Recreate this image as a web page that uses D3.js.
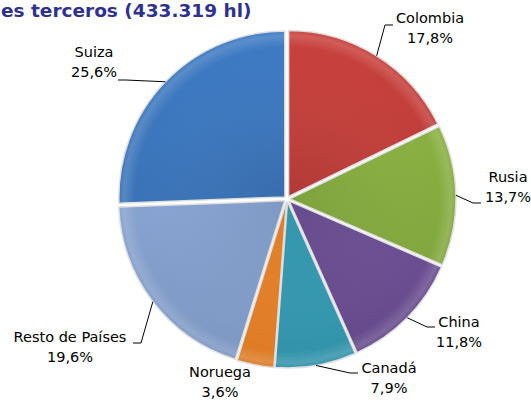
<!DOCTYPE html>
<html>
<head>
<meta charset="utf-8">
<script src="https://cdn.jsdelivr.net/npm/d3@7"></script>
<style>
  html, body { margin: 0; padding: 0; background: #fff; }
  svg { display: block; }
</style>
</head>
<body>
<svg id="chart" width="531" height="403"></svg>
<script>
// Data
const countries = ['Colombia', 'Rusia', 'China', 'Canadá', 'Noruega', 'Resto de Países', 'Suiza'];
const shares = [17.8, 13.7, 11.8, 7.9, 3.6, 19.6, 25.6];
const shareLabels = ['17,8%', '13,7%', '11,8%', '7,9%', '3,6%', '19,6%', '25,6%'];
const titleText = 'es terceros (433.319 hl)';

// Colours
const colors = ['#c23f3b', '#8ab142', '#70529a', '#38a3bc', '#f5892a', '#8ba8d8', '#3c77bd'];

// Label layout: text centre, leader end
const labelLayout = {
  'Colombia': { x: 430, y: 18, ex: 393, ey: 25 },
  'Rusia': { x: 508, y: 177, ex: 481, ey: 203 },
  'China': { x: 459, y: 322, ex: 435, ey: 327 },
  'Canadá': { x: 389, y: 368, ex: 358, ey: 373 },
  'Noruega': { x: 220, y: 372, ex: null, ey: null },
  'Resto de Países': { x: 70, y: 337, ex: 133, ey: 343 },
  'Suiza': { x: 94, y: 52, ex: 118, ey: 80 },
};

const svg = d3.select('#chart');
const cx = 287;
const cy = 199;
const radius = 166;
const explode = 3;

const data = countries.map((c, i) => ({ name: c, value: shares[i], label: shareLabels[i], color: colors[i] }));

const pie = d3.pie().sort(null).value((d) => d.value);
const arcs = pie(data);
const arc = d3.arc().innerRadius(0).outerRadius(radius);

// Gradients
const defs = svg.append('defs');
arcs.forEach((a, i) => {
  const base = d3.color(a.data.color);
  const lg = defs.append('linearGradient')
    .attr('id', `lg${i}`)
    .attr('gradientUnits', 'userSpaceOnUse')
    .attr('x1', 0).attr('y1', -radius)
    .attr('x2', 0).attr('y2', radius);
  lg.append('stop').attr('offset', '0%').attr('stop-color', base.brighter(0.1));
  lg.append('stop').attr('offset', '100%').attr('stop-color', base.darker(0.3));
});
const rim = defs.append('radialGradient')
  .attr('id', 'rim')
  .attr('gradientUnits', 'userSpaceOnUse')
  .attr('cx', 0).attr('cy', 0).attr('r', radius);
rim.append('stop').attr('offset', '0%').attr('stop-color', '#000').attr('stop-opacity', 0.06);
rim.append('stop').attr('offset', '90%').attr('stop-color', '#fff').attr('stop-opacity', 0);
rim.append('stop').attr('offset', '97%').attr('stop-color', '#fff').attr('stop-opacity', 0.15);
rim.append('stop').attr('offset', '100%').attr('stop-color', '#fff').attr('stop-opacity', 0.02);

const g = svg.append('g').attr('transform', `translate(${cx},${cy})`);

const slices = g.selectAll('g.slice')
  .data(arcs)
  .enter().append('g')
  .attr('class', 'slice')
  .attr('transform', (d) => {
    const mid = (d.startAngle + d.endAngle) / 2;
    return `translate(${explode * Math.sin(mid)},${-explode * Math.cos(mid)})`;
  });

slices.append('path')
  .attr('d', arc)
  .attr('fill', (d, i) => `url(#lg${i})`)
  .attr('stroke', '#e0e0e0')
  .attr('stroke-width', 1.5)
  .attr('stroke-linejoin', 'round');

slices.append('path')
  .attr('d', arc)
  .attr('fill', 'url(#rim)');

// Leader lines
arcs.forEach((d) => {
  const lay = labelLayout[d.data.name];
  if (lay.ex === null) return;
  const mid = (d.startAngle + d.endAngle) / 2;
  const sx = cx + (radius + 3) * Math.sin(mid);
  const sy = cy - (radius + 3) * Math.cos(mid);
  const dir = lay.ex > sx ? -1 : 1;
  const elbowX = lay.ex + dir * 8;
  svg.append('path')
    .attr('d', `M${sx},${sy}L${elbowX},${lay.ey}L${lay.ex},${lay.ey}`)
    .attr('fill', 'none')
    .attr('stroke', '#000')
    .attr('stroke-width', 1);
});

// Labels
const labels = svg.selectAll('text.lbl')
  .data(arcs)
  .enter().append('text')
  .attr('class', 'lbl')
  .attr('text-anchor', 'middle')
  .style('font-family', 'DejaVu Sans, sans-serif')
  .style('font-size', '14.5px')
  .attr('fill', '#000');

labels.append('tspan')
  .attr('x', (d) => labelLayout[d.data.name].x)
  .attr('y', (d) => labelLayout[d.data.name].y + 5)
  .text((d) => d.data.name);

labels.append('tspan')
  .attr('x', (d) => labelLayout[d.data.name].x)
  .attr('y', (d) => labelLayout[d.data.name].y + 25)
  .text((d) => d.data.label);

// Title fragment, top-left
svg.append('text')
  .attr('x', 1)
  .attr('y', 17)
  .style('font-family', 'DejaVu Sans, sans-serif')
  .style('font-weight', 'bold')
  .style('font-size', '18.5px')
  .attr('fill', '#2e3192')
  .text(titleText);
</script>
</body>
</html>
